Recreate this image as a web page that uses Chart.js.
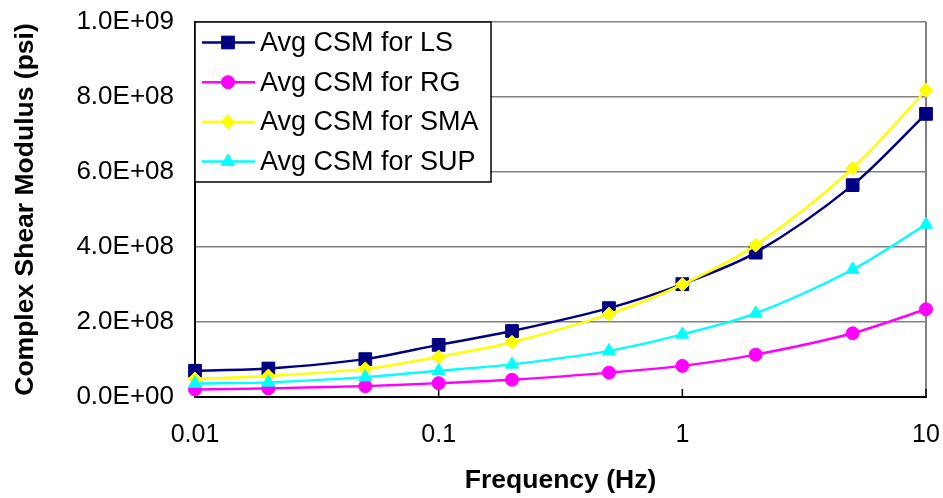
<!DOCTYPE html>
<html>
<head>
<meta charset="utf-8">
<script src="https://cdn.jsdelivr.net/npm/chart.js@4.4.1/dist/chart.umd.min.js"></script>
<style>
  html, body { margin: 0; padding: 0; background: #fff; }
  #myChart { display: block; }
</style>
</head>
<body>
<canvas id="myChart" width="943" height="498"></canvas>
<script>
// test frequencies (Hz) and average complex shear modulus (psi) per mix
const frequencies = [0.01, 0.02, 0.05, 0.1, 0.2, 0.5, 1, 2, 5, 10];
const csmLS  = [7.0e7, 7.6e7, 1.01e8, 1.39e8, 1.76e8, 2.37e8, 3.01e8, 3.85e8, 5.65e8, 7.55e8];
const csmRG  = [2.0e7, 2.3e7, 2.9e7, 3.7e7, 4.6e7, 6.5e7, 8.3e7, 1.13e8, 1.70e8, 2.34e8];
const csmSMA = [4.8e7, 5.6e7, 7.5e7, 1.07e8, 1.46e8, 2.21e8, 3.0e8, 4.05e8, 6.1e8, 8.18e8];
const csmSUP = [3.6e7, 3.9e7, 5.3e7, 7.0e7, 8.7e7, 1.23e8, 1.67e8, 2.23e8, 3.4e8, 4.6e8];
const seriesNames = ['Avg CSM for LS', 'Avg CSM for RG', 'Avg CSM for SMA', 'Avg CSM for SUP'];
const decadeTicks = [0.01, 0.1, 1, 10];

const FONT = 'Liberation Sans, Arial, sans-serif';

function sciLabel(v) {
    if (v === 0) return '0.0E+00';
    const e = Math.floor(Math.log10(v) + 1e-9);
    const m = v / Math.pow(10, e);
    return m.toFixed(1) + 'E+' + String(e).padStart(2, '0');
}

function points(values) {
    return frequencies.map((f, i) => ({x: f, y: values[i]}));
}

const styles = [
    {color: '#000080', pointStyle: 'rect', radius: 9},
    {color: '#ff00ff', pointStyle: 'circle', radius: 6.5},
    {color: '#ffff00', pointStyle: 'rectRot', radius: 7},
    {color: '#00ffff', pointStyle: 'triangle', radius: 7.5}
];
const seriesValues = [csmLS, csmRG, csmSMA, csmSUP];

const datasets = seriesValues.map((vals, i) => ({
    label: seriesNames[i],
    data: points(vals),
    borderColor: styles[i].color,
    backgroundColor: styles[i].color,
    pointStyle: styles[i].pointStyle,
    pointRadius: styles[i].radius,
    pointBorderWidth: 1,
    borderWidth: 2.5,
    tension: 0.3,
    clip: false,
    order: 4 - i
}));

// plot frame (right edge + decade ticks) and the boxed legend
const frameAndLegend = {
    id: 'frameAndLegend',
    beforeDatasetsDraw(chart) {
        const {ctx, chartArea: area, scales: {x}} = chart;
        ctx.save();
        ctx.strokeStyle = '#808080';
        ctx.lineWidth = 2;
        ctx.beginPath();
        ctx.moveTo(area.right, area.top);
        ctx.lineTo(area.right, area.bottom);
        ctx.stroke();
        ctx.strokeStyle = '#000';
        ctx.lineWidth = 1.5;
        decadeTicks.forEach(v => {
            const px = x.getPixelForValue(v);
            ctx.beginPath();
            ctx.moveTo(px, area.bottom);
            ctx.lineTo(px, area.bottom - 8);
            ctx.stroke();
        });
        ctx.restore();
    },
    afterDatasetsDraw(chart) {
        const {ctx, chartArea: area} = chart;
        const left = area.left, top = area.top;
        const w = 296, h = 160, rowH = 39.7;
        ctx.save();
        ctx.fillStyle = '#fff';
        ctx.fillRect(left, top, w, h);
        ctx.strokeStyle = '#000';
        ctx.lineWidth = 1.5;
        ctx.strokeRect(left, top, w, h);
        ctx.font = '27px ' + FONT;
        ctx.textBaseline = 'middle';
        chart.data.datasets.forEach((ds, i) => {
            const y = top + 20.5 + i * rowH;
            ctx.strokeStyle = ds.borderColor;
            ctx.lineWidth = 2.5;
            ctx.beginPath();
            ctx.moveTo(left + 7, y);
            ctx.lineTo(left + 60, y);
            ctx.stroke();
            ctx.fillStyle = ds.backgroundColor;
            ctx.lineWidth = 1;
            Chart.helpers.drawPoint(ctx, {
                pointStyle: ds.pointStyle, radius: ds.pointRadius, rotation: 0, borderWidth: 1
            }, left + 33, y);
            ctx.fillStyle = '#000';
            ctx.fillText(ds.label, left + 65, y + 1);
        });
        ctx.restore();
    }
};

const config = {
    type: 'line',
    data: {datasets: datasets},
    options: {
        responsive: false,
        animation: false,
        devicePixelRatio: 1,
        layout: {padding: {left: 0, top: 22, right: 17, bottom: 0}},
        plugins: {
            legend: {display: false},
            tooltip: {enabled: false}
        },
        scales: {
            x: {
                type: 'logarithmic',
                position: 'bottom',
                min: 0.01,
                max: 10,
                afterBuildTicks: scale => {
                    scale.ticks = decadeTicks.map(v => ({value: v}));
                },
                afterFit: scale => {
                    scale.height = 101;
                    scale.paddingLeft = 0;
                    scale.paddingRight = 0;
                },
                ticks: {
                    color: '#000',
                    font: {family: FONT, size: 25},
                    padding: 23,
                    maxRotation: 0,
                    callback: v => String(v)
                },
                grid: {display: false, drawTicks: false},
                border: {display: true, color: '#000', width: 2},
                title: {
                    display: true,
                    text: 'Frequency (Hz)',
                    color: '#000',
                    font: {family: FONT, size: 26.5, weight: 'bold'},
                    padding: {top: 0, bottom: 1}
                }
            },
            y: {
                min: 0,
                max: 1e9,
                afterFit: scale => {
                    scale.width = 195;
                    scale.paddingTop = 0;
                    scale.paddingBottom = 0;
                },
                ticks: {
                    stepSize: 2e8,
                    color: '#000',
                    font: {family: FONT, size: 26},
                    padding: 21,
                    callback: v => sciLabel(v)
                },
                grid: {color: '#808080', lineWidth: 1.5, drawTicks: false},
                border: {display: true, color: '#000', width: 2},
                title: {
                    display: true,
                    text: 'Complex Shear Modulus (psi)',
                    color: '#000',
                    font: {family: FONT, size: 26.5, weight: 'bold'},
                    padding: {top: 10, bottom: 0}
                }
            }
        }
    },
    plugins: [frameAndLegend]
};

var myChart = new Chart(document.getElementById('myChart'), config);
</script>
</body>
</html>
